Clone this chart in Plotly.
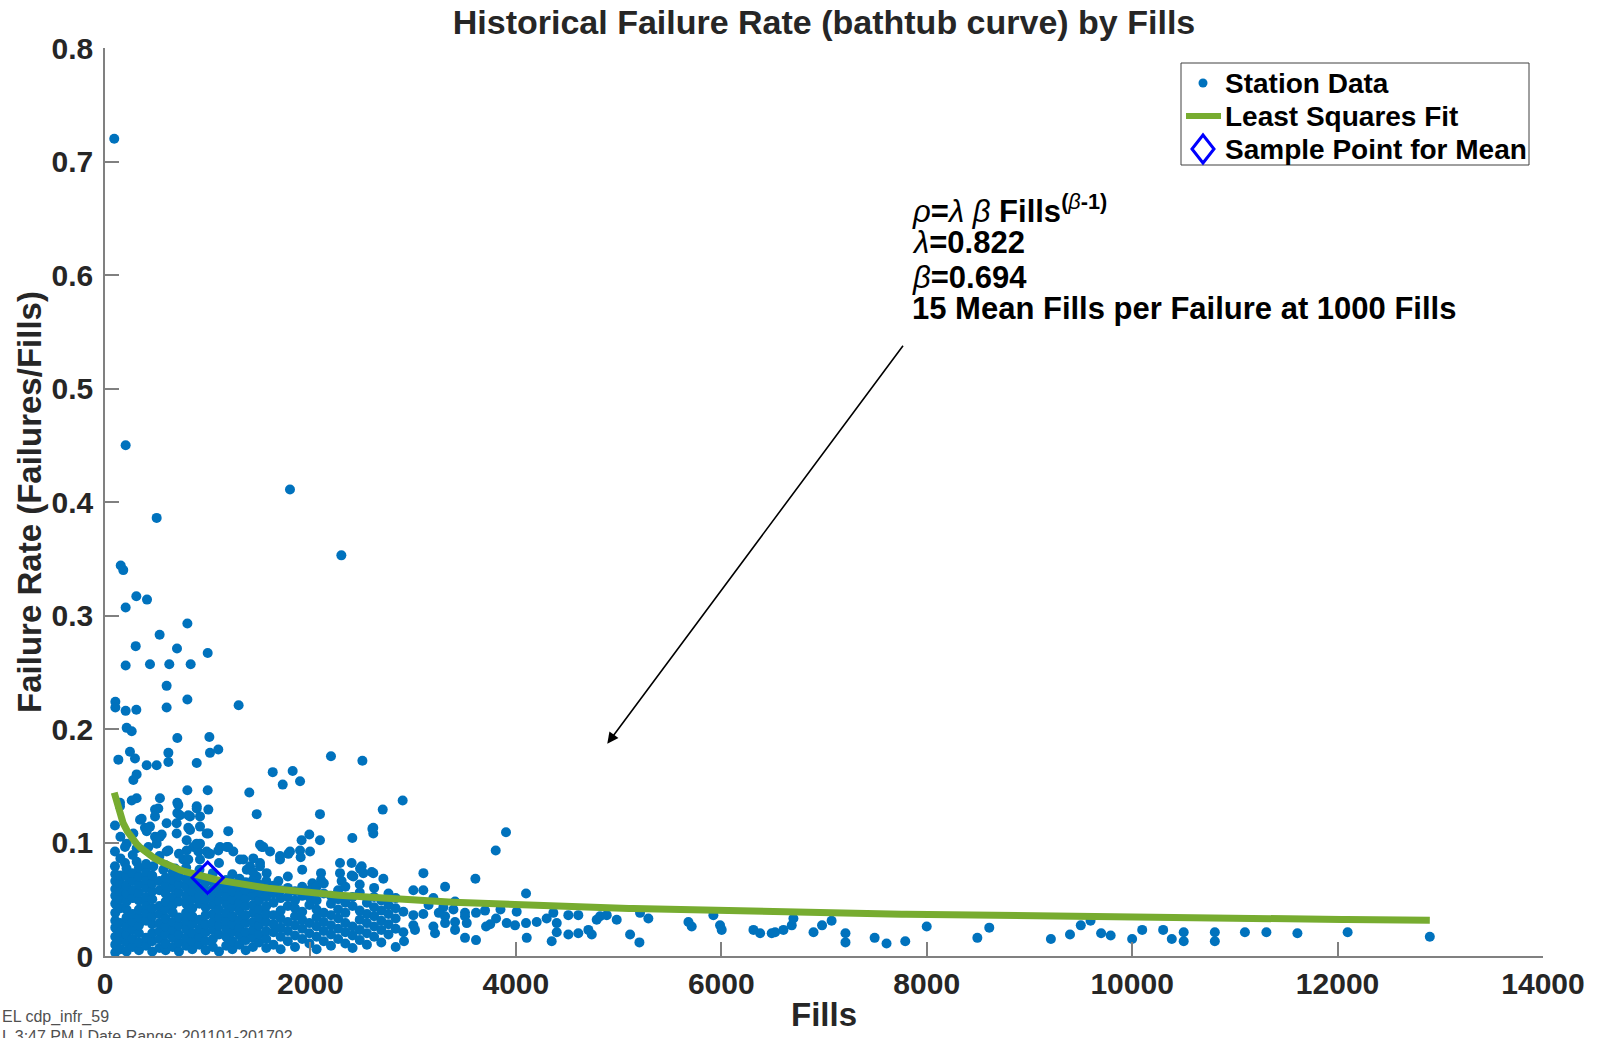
import numpy as np
import plotly.graph_objects as go

# ---- fitted model parameters (rho = lambda * beta * Fills^(beta-1)) ----
lam = 0.822
beta = 0.694
sample_fills = 1000

# ---- station data: scattered high-rate stations (fills, failure rate) ----
high_points = [
    (90, 0.720), (201, 0.450), (1801, 0.411), (503, 0.386), (2301, 0.353),
    (153, 0.344), (178, 0.340), (305, 0.317), (409, 0.314), (201, 0.307),
    (802, 0.293), (532, 0.283), (299, 0.273), (701, 0.271), (1000, 0.267),
    (201, 0.256), (438, 0.257), (626, 0.257), (834, 0.257), (600, 0.238),
    (802, 0.226), (101, 0.224), (101, 0.219), (201, 0.216), (305, 0.217),
    (600, 0.219), (1301, 0.221), (211, 0.201), (260, 0.198), (704, 0.192),
    (1016, 0.193), (1022, 0.179), (1103, 0.182), (243, 0.180), (130, 0.173),
    (292, 0.174), (406, 0.168), (503, 0.168), (617, 0.171), (617, 0.179),
    (893, 0.170), (2200, 0.176), (2506, 0.172), (308, 0.160), (276, 0.155),
    (1633, 0.162), (1827, 0.163), (1730, 0.151), (1899, 0.154), (802, 0.146),
    (1000, 0.146), (1405, 0.144), (535, 0.139), (308, 0.139), (260, 0.137),
    (146, 0.135), (2898, 0.137), (2704, 0.129), (704, 0.135), (704, 0.126),
    (893, 0.132), (1006, 0.129), (487, 0.129), (487, 0.123), (828, 0.123),
    (925, 0.123), (1477, 0.125), (2093, 0.125), (357, 0.121), (97, 0.115),
    (2612, 0.113), (2612, 0.108), (389, 0.113), (487, 0.105), (552, 0.107),
    (698, 0.117), (698, 0.108), (811, 0.113), (925, 0.114), (1006, 0.108),
    (1200, 0.110), (2408, 0.104), (1914, 0.102), (1989, 0.107), (2093, 0.102),
    (211, 0.099), (97, 0.092), (195, 0.096), (308, 0.095), (422, 0.096),
    (503, 0.099), (600, 0.092), (795, 0.102), (860, 0.096), (925, 0.099),
    (909, 0.092), (1006, 0.090), (1120, 0.096), (1200, 0.096), (1249, 0.092),
    (1509, 0.098), (1607, 0.092), (1704, 0.088), (1785, 0.090), (1899, 0.093),
    (1996, 0.092), (3904, 0.109), (3804, 0.093), (2603, 0.112), (1526, 0.096),
    (1801, 0.092), (146, 0.132), (519, 0.130), (714, 0.133), (730, 0.124),
    (811, 0.124), (893, 0.130), (341, 0.120), (438, 0.114), (600, 0.117),
    (276, 0.108), (406, 0.110), (535, 0.105), (828, 0.111), (990, 0.108),
    (617, 0.093), (795, 0.093), (893, 0.099), (990, 0.092), (1103, 0.093),
    (1185, 0.096), (1542, 0.096), (1022, 0.090),
]

# ---- station data: stations just around the fitted curve ----
mid_points = [
    (1347, 0.085), (1412, 0.079), (1509, 0.082), (2288, 0.082), (2401, 0.082),
    (2499, 0.079), (2612, 0.073), (2710, 0.068), (3100, 0.073), (2288, 0.073),
    (2418, 0.070), (2515, 0.073), (1704, 0.085), (2483, 0.077), (2597, 0.074),
    (2402, 0.071), (2103, 0.073), (2103, 0.067), (2019, 0.064), (2304, 0.066),
    (1688, 0.066), (3002, 0.058), (3099, 0.058), (3311, 0.061), (3606, 0.068),
    (4099, 0.055), (3197, 0.051), (3408, 0.048), (1905, 0.087), (97, 0.079),
    (195, 0.082), (308, 0.083), (406, 0.079), (470, 0.079), (568, 0.076),
    (682, 0.077), (763, 0.085), (811, 0.085), (925, 0.085), (1314, 0.085),
    (1444, 0.086), (1509, 0.079), (1574, 0.073), (1477, 0.070), (1380, 0.076),
]

# ---- station data: dense low-rate cluster, listed by fills column ----
dense_columns_low_fills = [
    (100, [0.003, 0.010, 0.017, 0.025, 0.031, 0.038, 0.046, 0.053, 0.059, 0.066, 0.072]),
    (150, [0.006, 0.014, 0.021, 0.029, 0.042, 0.050, 0.057, 0.064, 0.071, 0.086, 0.105]),
    (210, [0.004, 0.012, 0.019, 0.026, 0.034, 0.041, 0.048, 0.055, 0.062, 0.070, 0.077]),
    (270, [0.008, 0.015, 0.023, 0.030, 0.037, 0.051, 0.058, 0.066, 0.073, 0.089]),
    (330, [0.005, 0.012, 0.020, 0.027, 0.034, 0.041, 0.049, 0.056, 0.063, 0.070, 0.078]),
    (400, [0.009, 0.016, 0.031, 0.038, 0.045, 0.052, 0.060, 0.067, 0.074, 0.081]),
    (460, [0.004, 0.013, 0.020, 0.028, 0.035, 0.042, 0.050, 0.057, 0.064, 0.071]),
    (530, [0.007, 0.015, 0.022, 0.029, 0.037, 0.044, 0.058, 0.066, 0.088]),
    (590, [0.005, 0.011, 0.019, 0.026, 0.033, 0.041, 0.048, 0.055, 0.062, 0.069, 0.080]),
    (660, [0.008, 0.016, 0.023, 0.030, 0.038, 0.045, 0.052, 0.060, 0.067, 0.074]),
    (720, [0.004, 0.012, 0.019, 0.027, 0.034, 0.048, 0.056, 0.063, 0.070, 0.090]),
    (790, [0.009, 0.016, 0.024, 0.031, 0.038, 0.046, 0.053, 0.061, 0.068, 0.078]),
    (850, [0.006, 0.013, 0.020, 0.028, 0.035, 0.042, 0.050, 0.057, 0.064, 0.071]),
    (920, [0.010, 0.017, 0.024, 0.032, 0.046, 0.053, 0.060, 0.068, 0.076]),
    (980, [0.005, 0.013, 0.021, 0.028, 0.036, 0.043, 0.050, 0.058, 0.065]),
    (1050, [0.008, 0.015, 0.023, 0.030, 0.037, 0.045, 0.052, 0.059, 0.066, 0.073]),
    (1110, [0.004, 0.019, 0.027, 0.034, 0.041, 0.049, 0.056, 0.063, 0.082]),
    (1180, [0.009, 0.017, 0.024, 0.031, 0.038, 0.046, 0.053, 0.060, 0.067]),
    (1240, [0.006, 0.013, 0.021, 0.028, 0.035, 0.043, 0.050, 0.057, 0.064, 0.072]),
    (1310, [0.010, 0.018, 0.025, 0.032, 0.040, 0.047, 0.054, 0.061, 0.068]),
    (1370, [0.005, 0.014, 0.021, 0.029, 0.036, 0.044, 0.051, 0.058, 0.065]),
    (1440, [0.008, 0.016, 0.023, 0.030, 0.038, 0.045, 0.053, 0.060, 0.067, 0.074]),
    (1500, [0.012, 0.019, 0.027, 0.034, 0.041, 0.049, 0.056, 0.063]),
    (1570, [0.007, 0.015, 0.022, 0.030, 0.037, 0.044, 0.052, 0.059, 0.066]),
]

dense_columns_mid_fills = [
    (1640, [0.010, 0.021, 0.028, 0.036, 0.047, 0.055, 0.062]),
    (1710, [0.006, 0.017, 0.025, 0.033, 0.040, 0.051, 0.058]),
    (1780, [0.013, 0.022, 0.030, 0.044, 0.052, 0.060, 0.070]),
    (1850, [0.008, 0.018, 0.027, 0.035, 0.042, 0.049, 0.057]),
    (1920, [0.015, 0.024, 0.032, 0.039, 0.053, 0.061, 0.076]),
    (1990, [0.011, 0.020, 0.029, 0.045, 0.052, 0.058]),
    (2060, [0.006, 0.017, 0.026, 0.034, 0.041, 0.049, 0.061]),
    (2130, [0.013, 0.022, 0.030, 0.038, 0.055, 0.064]),
    (2200, [0.009, 0.019, 0.027, 0.036, 0.046, 0.053]),
    (2270, [0.015, 0.024, 0.033, 0.041, 0.050, 0.058]),
    (2340, [0.011, 0.021, 0.029, 0.038, 0.047, 0.061]),
    (2410, [0.007, 0.018, 0.026, 0.044, 0.052]),
    (2480, [0.014, 0.023, 0.032, 0.040, 0.056, 0.063]),
    (2550, [0.010, 0.020, 0.029, 0.037, 0.047]),
    (2620, [0.017, 0.026, 0.035, 0.043, 0.052, 0.060]),
    (2690, [0.012, 0.023, 0.031, 0.040, 0.049]),
    (2760, [0.019, 0.028, 0.037, 0.045, 0.055]),
    (2830, [0.008, 0.024, 0.033, 0.042, 0.051]),
]

# ---- station data: long tail of high-fill stations ----
tail_points = [
    (2905, 0.039), (3002, 0.036), (3099, 0.037), (3294, 0.043), (3392, 0.041),
    (3505, 0.038), (3612, 0.038), (3002, 0.027), (3018, 0.023), (2905, 0.021),
    (2911, 0.013), (3197, 0.026), (3213, 0.020), (3311, 0.035), (3311, 0.029),
    (3408, 0.030), (3408, 0.023), (3505, 0.035), (3522, 0.029), (3710, 0.026),
    (3505, 0.016), (3612, 0.014), (3807, 0.033), (3911, 0.029), (3992, 0.027),
    (4008, 0.039), (4099, 0.029), (4106, 0.016), (4203, 0.030), (4300, 0.033),
    (4365, 0.038), (4398, 0.029), (4398, 0.021), (4349, 0.013), (4511, 0.019),
    (4608, 0.020), (4608, 0.036), (4511, 0.036), (4706, 0.023), (4739, 0.019),
    (4787, 0.032), (4820, 0.035), (4885, 0.036), (4982, 0.032), (5112, 0.019),
    (5203, 0.012), (5209, 0.038), (5290, 0.033), (5680, 0.030), (5712, 0.026),
    (5923, 0.036), (5988, 0.027), (6004, 0.023), (6313, 0.023), (6378, 0.020),
    (6491, 0.020), (6524, 0.021), (6605, 0.023), (6686, 0.027), (6702, 0.033),
    (6898, 0.021), (6981, 0.027), (7074, 0.031), (7209, 0.020), (7209, 0.012),
    (7493, 0.016), (7609, 0.011), (7791, 0.013), (8000, 0.026), (8493, 0.016),
    (8609, 0.025), (9209, 0.015), (9395, 0.019), (9500, 0.027), (9595, 0.031),
    (9698, 0.020), (9791, 0.018), (10000, 0.015), (10098, 0.023), (10302, 0.023),
    (10386, 0.015), (10502, 0.021), (10502, 0.013), (10805, 0.021), (10805, 0.013),
    (11098, 0.021), (11307, 0.021), (11609, 0.020), (12098, 0.021), (12898, 0.017),
    (3150, 0.045), (3250, 0.038), (3700, 0.040), (3750, 0.028), (3850, 0.041),
]

x_tick_values = [0, 2000, 4000, 6000, 8000, 10000, 12000, 14000]
x_tick_labels = ["0", "2000", "4000", "6000", "8000", "10000", "12000", "14000"]
y_tick_values = [0, 0.1, 0.2, 0.3, 0.4, 0.5, 0.6, 0.7, 0.8]
y_tick_labels = ["0", "0.1", "0.2", "0.3", "0.4", "0.5", "0.6", "0.7", "0.8"]
legend_labels = ["Station Data", "Least Squares Fit", "Sample Point for Mean"]

# ---- assemble the station scatter ----
fills, rates = [], []
for f, r in high_points + mid_points + tail_points:
    fills.append(f)
    rates.append(r)
for f, col in dense_columns_low_fills + dense_columns_mid_fills:
    for r in col:
        fills.append(f)
        rates.append(r)
fills = np.array(fills, dtype=float)
rates = np.array(rates, dtype=float)

# ---- least squares fit curve across the station fill range ----
fit_x = np.linspace(fills.min(), fills.max(), 300)
fit_y = lam * beta * fit_x ** (beta - 1)
sample_rate = lam * beta * sample_fills ** (beta - 1)
mean_fills_per_failure = 1.0 / sample_rate

FONT = "Liberation Sans, Arial, Helvetica, sans-serif"
DOT_BLUE = "#0072BD"
FIT_GREEN = "#77AC30"
DIAMOND_BLUE = "#0000FF"
AXIS_GREY = "#808080"
TEXT_DARK = "#262626"

# plot-area geometry in page pixels (for placing paper-referenced items)
W, H = 1600, 1038
L, R, T, B = 105, 57, 48, 82
PW, PH = W - L - R, H - T - B


def px(xp):
    return (xp - L) / PW


def py(yp):
    return (H - B - yp) / PH


fig = go.Figure()
fig.add_trace(go.Scatter(
    x=fills, y=rates, mode="markers", name=legend_labels[0], showlegend=False,
    marker=dict(color=DOT_BLUE, size=10, line=dict(width=0)),
))
fig.add_trace(go.Scatter(
    x=fit_x, y=fit_y, mode="lines", name=legend_labels[1], showlegend=False,
    line=dict(color=FIT_GREEN, width=7),
))
fig.add_trace(go.Scatter(
    x=[sample_fills], y=[sample_rate], mode="markers", name=legend_labels[2],
    showlegend=False,
    marker=dict(symbol="diamond-open", size=24, color=DIAMOND_BLUE,
                line=dict(color=DIAMOND_BLUE, width=3)),
))

axis_common = dict(
    showline=True, linecolor=AXIS_GREY, linewidth=1.5,
    ticks="inside", ticklen=14, tickwidth=1.5, tickcolor=AXIS_GREY,
    showgrid=False, zeroline=False, mirror=False, automargin=False,
    tickfont=dict(family=FONT, size=30, color=TEXT_DARK, weight="bold"),
)

fig.update_xaxes(
    range=[0, 14000], tickmode="array", tickvals=x_tick_values, ticktext=x_tick_labels,
    title=dict(text="Fills", font=dict(family=FONT, size=33, color=TEXT_DARK, weight="bold"),
               standoff=4),
    ticklabelstandoff=0,
    **axis_common,
)
fig.update_yaxes(
    range=[0, 0.8], tickmode="array", tickvals=y_tick_values, ticktext=y_tick_labels,
    title=dict(text="Failure Rate (Failures/Fills)",
               font=dict(family=FONT, size=33, color=TEXT_DARK, weight="bold"), standoff=0),
    ticklabelstandoff=4,
    **axis_common,
)

# ---- legend box drawn in page coordinates ----
leg_x0, leg_x1, leg_y0, leg_y1 = 1181, 1529, 63, 165
row_y = [83, 116, 149]
sym_x = 1203
shapes = [
    dict(type="rect", xref="paper", yref="paper",
         x0=px(leg_x0), x1=px(leg_x1), y0=py(leg_y1), y1=py(leg_y0),
         line=dict(color="#404040", width=1), fillcolor="white", layer="above"),
    dict(type="circle", xref="paper", yref="paper",
         x0=px(sym_x - 4.5), x1=px(sym_x + 4.5), y0=py(row_y[0] + 4.5), y1=py(row_y[0] - 4.5),
         line=dict(width=0), fillcolor=DOT_BLUE, layer="above"),
    dict(type="line", xref="paper", yref="paper",
         x0=px(1186), x1=px(1221), y0=py(row_y[1]), y1=py(row_y[1]),
         line=dict(color=FIT_GREEN, width=6), layer="above"),
    dict(type="path", xref="paper", yref="paper", layer="above",
         path="M {a},{b} L {c},{d} L {a},{e} L {f},{d} Z".format(
             a=px(sym_x), b=py(row_y[2] - 14), c=px(sym_x + 11), d=py(row_y[2]),
             e=py(row_y[2] + 14), f=px(sym_x - 11)),
         line=dict(color=DIAMOND_BLUE, width=3)),
]

legend_annotations = [
    dict(x=px(1223), y=py(yy), xref="paper", yref="paper", xanchor="left",
         yanchor="middle", showarrow=False, text=lbl,
         font=dict(family=FONT, size=28, color="#000000", weight="bold"))
    for lbl, yy in zip(legend_labels, row_y)
]

# ---- fit-equation text block, one annotation per line ----
greek = "<span style='font-weight:normal'><i>{}</i></span>"
eq_lines = [
    (f"{greek.format('ρ')}=<span style='font-weight:normal'><i>λ</i> <i>β</i></span> Fills"
     f"<sup>(<span style='font-weight:normal'><i>β</i></span>-1)</sup>", 209),
    (f"{greek.format('λ')}={lam:.3f}", 243),
    (f"{greek.format('β')}={beta:.3f}", 277),
    (f"{mean_fills_per_failure:.0f} Mean Fills per Failure at {sample_fills} Fills", 309),
]
eq_annotations = [
    dict(x=px(910), y=py(yy), xref="paper", yref="paper", xanchor="left",
         yanchor="middle", showarrow=False, text=txt,
         font=dict(family=FONT, size=31, color="#000000", weight="bold"))
    for txt, yy in eq_lines
]

fig.update_layout(
    width=W, height=H,
    margin=dict(l=L, r=R, t=T, b=B, autoexpand=False),
    paper_bgcolor="white", plot_bgcolor="white",
    font=dict(family=FONT, color=TEXT_DARK),
    title=dict(text="Historical Failure Rate (bathtub curve) by Fills",
               font=dict(family=FONT, size=34, color=TEXT_DARK, weight="bold"),
               x=0.5, xref="paper", xanchor="center", y=1 - 22 / H, yanchor="middle"),
    showlegend=False,
    shapes=shapes,
    annotations=legend_annotations + eq_annotations + [
        dict(x=4890, y=0.187, ax=7780, ay=0.539, xref="x", yref="y", axref="x", ayref="y",
             text="", showarrow=True, arrowhead=2, arrowsize=1.4, arrowwidth=1.6,
             arrowcolor="#000000"),
        dict(x=px(0), y=py(1017), xref="paper", yref="paper",
             xanchor="left", yanchor="middle", showarrow=False,
             text="EL cdp_infr_59", font=dict(family=FONT, size=16, color="#505050")),
        dict(x=px(0), y=py(1036), xref="paper", yref="paper",
             xanchor="left", yanchor="middle", showarrow=False,
             text="L 3:47 PM | Date Range: 201101-201702",
             font=dict(family=FONT, size=16, color="#505050")),
    ],
)

fig.write_html("out.html")
